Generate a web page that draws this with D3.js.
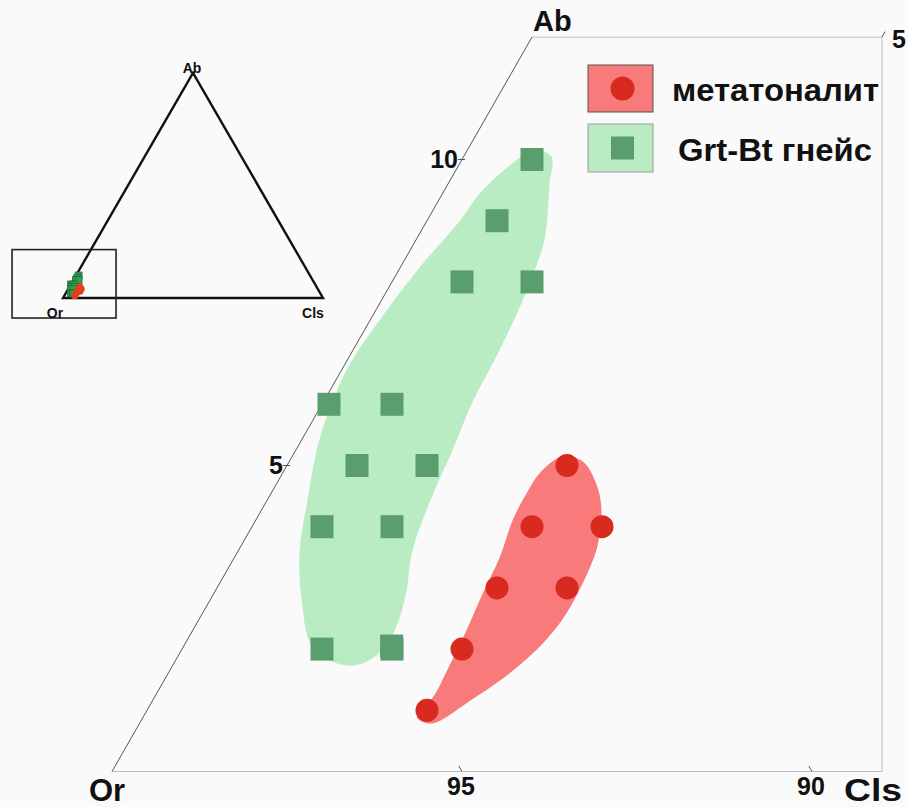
<!DOCTYPE html>
<html>
<head>
<meta charset="utf-8">
<script src="https://cdn.jsdelivr.net/npm/d3@7"></script>
<style>
  html, body { margin: 0; padding: 0; background: #fafafa; }
  svg { display: block; }
  text { font-family: "Liberation Sans", Arial, sans-serif; font-weight: bold; fill: #111; }
</style>
</head>
<body>
<svg id="chart" width="908" height="807"></svg>
<script>
// Or–Ab–Cls compositions, wt. %
const tonaliteOr  = [91, 92, 91, 93, 92, 94, 95];
const tonaliteAb  = [5, 4, 4, 3, 3, 2, 1];
const tonaliteCls = [4, 4, 5, 4, 5, 4, 4];

const gneissOr  = [89, 90, 91, 90, 93.9, 93, 94, 93, 95, 94, 96, 95, 94.98];
const gneissAb  = [10, 9, 8, 8, 6, 6, 5, 5, 4, 4, 2, 2, 2.05];
const gneissCls = [1, 1, 1, 2, 0.1, 1, 1, 2, 1, 2, 2, 3, 2.97];

// Field outlines as [Ab, Cls] pairs
const gneissField = [
  [10.15, 0.95], [10.05, 1.25], [9.6, 1.45], [8.7, 1.83], [8.15, 1.95], [7.6, 2.03],
  [6.8, 2.1], [6.05, 2.13], [5.25, 2.24], [4.45, 2.33], [3.6, 2.49], [2.9, 2.75],
  [2.35, 2.88], [2.0, 2.88], [1.77, 2.7], [1.74, 2.43], [2.03, 1.85], [2.8, 1.31],
  [3.6, 0.88], [4.45, 0.57], [5.25, 0.30], [5.8, 0.17], [6.6, 0.07], [7.4, 0.14],
  [8.25, 0.28], [9.0, 0.47], [9.45, 0.53], [9.95, 0.76]
];
const tonaliteField = [
  [5.15, 3.87], [5.06, 4.2], [4.71, 4.56], [4.32, 4.83], [3.73, 5.08], [3.34, 5.16],
  [2.59, 5.20], [2.10, 5.11], [1.61, 4.88], [1.12, 4.51], [0.81, 4.24], [0.79, 4.10],
  [0.89, 3.91], [1.22, 3.98], [1.66, 3.96], [2.31, 3.91], [2.92, 3.84], [3.50, 3.79],
  [4.11, 3.67], [4.55, 3.65], [4.9, 3.68]
];

// Axis ticks
const abTicks = [5, 10];          // Ab along the Or–Ab edge
const orTicks = [95, 90];         // Or along the base
const clsTopTicks = [5];          // Cls at the top edge

const seriesNames = ["метатоналит", "Grt-Bt гнейс"];
const cornerNames = ["Or", "Ab", "Cls"];

const svg = d3.select("#chart");
svg.append("rect").attr("width", 908).attr("height", 807).attr("fill", "#fafafa");

// ---------- main (enlarged) diagram ----------
// horizontal coordinate = Cls + Ab/2, vertical = Ab (equilateral projection)
const X = d3.scaleLinear().domain([0, 11]).range([112, 882]);
const Y = d3.scaleLinear().domain([0, 12]).range([771.5, 37.1]);
const P = (ab, cls) => [X(cls + ab / 2), Y(ab)];

const abMax = 12, hMax = 11;

// frame: base, right side, top
svg.append("path")
  .attr("d", d3.line()([[X(0), Y(0)], [X(hMax), Y(0)], [X(hMax), Y(abMax)], P(abMax, 0)]))
  .attr("fill", "none").attr("stroke", "#bdbdbd").attr("stroke-width", 1);
// Or–Ab edge
svg.append("line")
  .attr("x1", P(0, 0)[0]).attr("y1", P(0, 0)[1])
  .attr("x2", P(abMax, 0)[0]).attr("y2", P(abMax, 0)[1])
  .attr("stroke", "#444").attr("stroke-width", 0.9);

// fields
const field = d3.line().curve(d3.curveCatmullRomClosed.alpha(0.5));
svg.append("path")
  .attr("d", field(gneissField.map(d => P(d[0], d[1]))))
  .attr("fill", "#b9ecc3");
svg.append("path")
  .attr("d", field(tonaliteField.map(d => P(d[0], d[1]))))
  .attr("fill", "#f87a7a");

// points
const sq = 23;
svg.append("g").selectAll("rect")
  .data(gneissAb.map((ab, i) => ({ ab, cls: gneissCls[i], or: gneissOr[i] })))
  .join("rect")
  .attr("x", d => P(d.ab, d.cls)[0] - sq / 2)
  .attr("y", d => P(d.ab, d.cls)[1] - sq / 2)
  .attr("width", sq).attr("height", sq)
  .attr("fill", "#5a9d6f");

svg.append("g").selectAll("circle")
  .data(tonaliteAb.map((ab, i) => ({ ab, cls: tonaliteCls[i], or: tonaliteOr[i] })))
  .join("circle")
  .attr("cx", d => P(d.ab, d.cls)[0])
  .attr("cy", d => P(d.ab, d.cls)[1])
  .attr("r", 11.5)
  .attr("fill", "#d92a1f");

// Ab ticks (horizontal dashes)
abTicks.forEach(t => {
  const [x, y] = P(t, 0);
  svg.append("line").attr("x1", x - 4).attr("y1", y).attr("x2", x + 3).attr("y2", y)
    .attr("stroke", "#555").attr("stroke-width", 1);
  svg.append("text").attr("x", x - 4).attr("y", y + 8)
    .attr("text-anchor", "end").attr("font-size", 25).text(t);
});
// Or ticks on the base (parallel to the Ab–Cls edge)
orTicks.forEach(t => {
  const [x, y] = P(0, 100 - t);
  const [x2, y2] = P(0.09, 100 - t - 0.09);
  svg.append("line").attr("x1", x).attr("y1", y).attr("x2", x2).attr("y2", y2)
    .attr("stroke", "#555").attr("stroke-width", 1);
  svg.append("text").attr("x", x - 1).attr("y", y + 23)
    .attr("text-anchor", "middle").attr("font-size", 25).text(t);
});
// Cls tick at the top edge (parallel to the Or–Ab edge)
clsTopTicks.forEach(t => {
  const [x, y] = P(abMax, t);
  const [x2, y2] = P(abMax + 0.09, t);
  svg.append("line").attr("x1", x).attr("y1", y).attr("x2", x2).attr("y2", y2)
    .attr("stroke", "#555").attr("stroke-width", 1);
  svg.append("text").attr("x", x + 10).attr("y", y + 11)
    .attr("font-size", 25).text(t);
});

// corner labels
svg.append("text").attr("x", 89).attr("y", 801).attr("font-size", 31).text(cornerNames[0]);
svg.append("text").attr("x", 533).attr("y", 31).attr("font-size", 29).text(cornerNames[1]);
svg.append("text").attr("x", 844).attr("y", 801).attr("font-size", 31)
  .attr("textLength", 58).attr("lengthAdjust", "spacingAndGlyphs").text(cornerNames[2]);

// legend
const legend = svg.append("g");
const lg = [
  { y: 65, h: 47, fill: "#f87a7a", stroke: "#555", name: seriesNames[0], tx: 672, ty: 101, tw: 207 },
  { y: 124, h: 48, fill: "#b9ecc3", stroke: "#9a9a9a", name: seriesNames[1], tx: 678, ty: 161, tw: 194 }
];
lg.forEach((d, i) => {
  legend.append("rect").attr("x", 588).attr("y", d.y).attr("width", 65).attr("height", d.h)
    .attr("fill", d.fill).attr("stroke", d.stroke).attr("stroke-width", 1);
  if (i === 0) {
    legend.append("circle").attr("cx", 622.5).attr("cy", d.y + 23.5).attr("r", 12).attr("fill", "#d92a1f");
  } else {
    legend.append("rect").attr("x", 611).attr("y", d.y + 12.5).attr("width", 23).attr("height", 23).attr("fill", "#5a9d6f");
  }
  legend.append("text").attr("x", d.tx).attr("y", d.ty).attr("font-size", 32)
    .attr("textLength", d.tw).attr("lengthAdjust", "spacingAndGlyphs").text(d.name);
});

// ---------- inset: full triangle ----------
const Xi = d3.scaleLinear().domain([0, 100]).range([63, 323]);
const Yi = d3.scaleLinear().domain([0, 100]).range([298, 298 - 260 * Math.sqrt(3) / 2]);
const Pi = (ab, cls) => [Xi(cls + ab / 2), Yi(ab)];

svg.append("path")
  .attr("d", d3.line()([Pi(0, 0), Pi(100, 0), Pi(0, 100)]) + "Z")
  .attr("fill", "none").attr("stroke", "#111").attr("stroke-width", 2.4).attr("stroke-linejoin", "miter");

// frame around the enlarged corner
svg.append("rect")
  .attr("x", Xi(-19.6)).attr("y", Yi(21.5))
  .attr("width", Xi(20.4) - Xi(-19.6)).attr("height", Yi(-8.9) - Yi(21.5))
  .attr("fill", "none").attr("stroke", "#222").attr("stroke-width", 1.6);

svg.append("g").selectAll("rect")
  .data(gneissAb.map((ab, i) => ({ ab, cls: gneissCls[i] })))
  .join("rect")
  .attr("x", d => Pi(d.ab, d.cls)[0] - 3.5)
  .attr("y", d => Pi(d.ab, d.cls)[1] - 3.5)
  .attr("width", 7).attr("height", 7)
  .attr("fill", "#2f9e52").attr("stroke", "#1d5c30").attr("stroke-width", 0.6);
svg.append("g").selectAll("circle")
  .data(tonaliteAb.map((ab, i) => ({ ab, cls: tonaliteCls[i] })))
  .join("circle")
  .attr("cx", d => Pi(d.ab, d.cls)[0])
  .attr("cy", d => Pi(d.ab, d.cls)[1])
  .attr("r", 3.5)
  .attr("fill", "#e2401d");

svg.append("text").attr("x", Pi(0, 0)[0] - 8).attr("y", 318).attr("text-anchor", "middle")
  .attr("font-size", 14).text(cornerNames[0]);
svg.append("text").attr("x", Pi(100, 0)[0] - 1).attr("y", 73).attr("text-anchor", "middle")
  .attr("font-size", 14).text(cornerNames[1]);
svg.append("text").attr("x", Pi(0, 100)[0] - 10).attr("y", 318).attr("text-anchor", "middle")
  .attr("font-size", 14).text(cornerNames[2]);
</script>
</body>
</html>
